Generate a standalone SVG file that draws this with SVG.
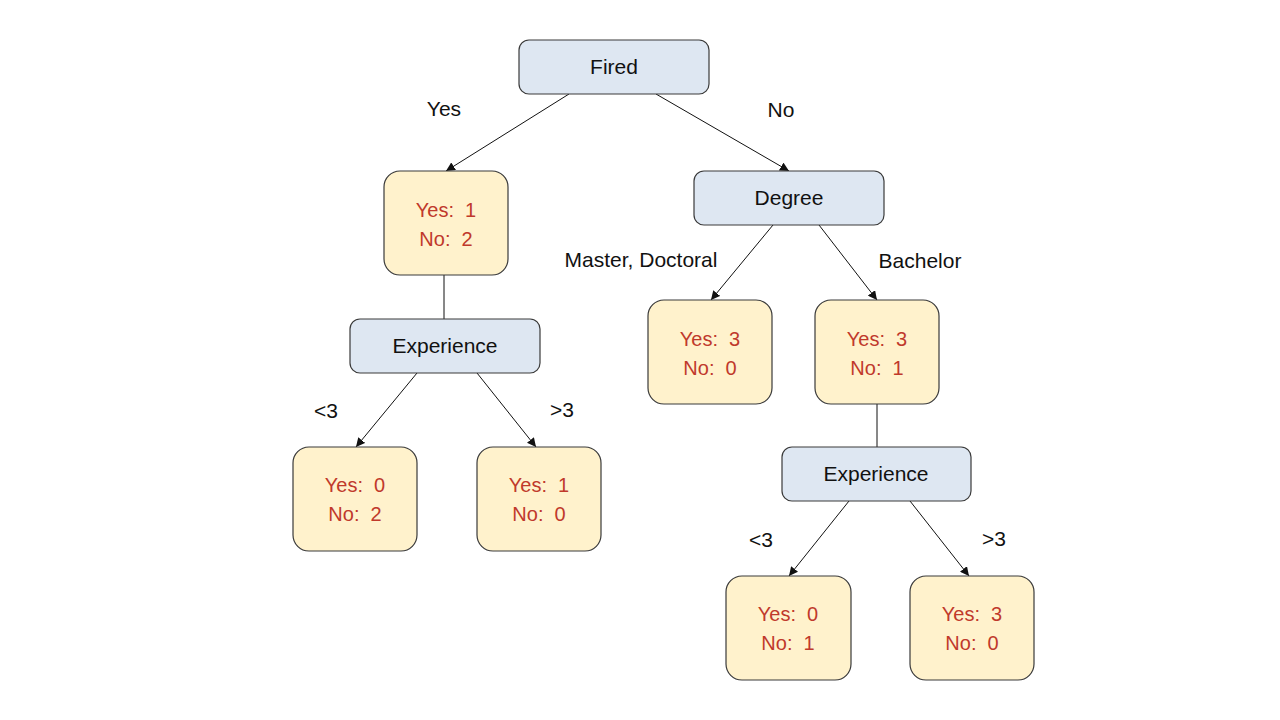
<svg xmlns="http://www.w3.org/2000/svg" width="1280" height="720" viewBox="0 0 1280 720">
<style>
.n{fill:#dee7f2;stroke:#3a3a3a;stroke-width:1.2}
.l{fill:#fff2cc;stroke:#3a3a3a;stroke-width:1.2}
.t{font-family:"Liberation Sans",Arial,sans-serif;font-size:21px;fill:#111;text-anchor:middle;white-space:pre}
.r{font-family:"Liberation Sans",Arial,sans-serif;font-size:20px;fill:#c0392b;text-anchor:middle;white-space:pre}
.e{stroke:#111;stroke-width:1;fill:none}
.a{marker-end:url(#ah)}
</style>
<defs>
<marker id="ah" viewBox="0 0 10 10" refX="10" refY="5" markerWidth="9" markerHeight="9" markerUnits="userSpaceOnUse" orient="auto">
<path d="M0,0 L10,5 L0,10 z" fill="#111"/>
</marker>
</defs>
<rect width="1280" height="720" fill="#fff"/>
<g id="edges">
<line class="e a" x1="569" y1="94" x2="446" y2="171"/>
<line class="e a" x1="656" y1="94" x2="789" y2="171"/>
<line class="e" x1="444" y1="275" x2="444" y2="319"/>
<line class="e a" x1="417" y1="373" x2="356" y2="447"/>
<line class="e a" x1="477" y1="373" x2="536" y2="447"/>
<line class="e a" x1="773" y1="225" x2="711" y2="300"/>
<line class="e a" x1="819" y1="225" x2="877" y2="300"/>
<line class="e" x1="877" y1="404" x2="877" y2="447"/>
<line class="e a" x1="849" y1="501" x2="789" y2="576"/>
<line class="e a" x1="910" y1="501" x2="969" y2="576"/>
<text class="t" x="444" y="116">Yes</text>
<text class="t" x="781" y="117">No</text>
<text class="t" x="641" y="267">Master, Doctoral</text>
<text class="t" x="920" y="268">Bachelor</text>
<text class="t" x="326" y="418">&lt;3</text>
<text class="t" x="562" y="417">&gt;3</text>
<text class="t" x="761" y="547">&lt;3</text>
<text class="t" x="994" y="546">&gt;3</text>
</g>
<g id="fired"><rect class="n" x="519" y="40" width="190" height="54" rx="10"/><text class="t" x="614" y="74">Fired</text></g>
<g id="degree"><rect class="n" x="694" y="171" width="190" height="54" rx="10"/><text class="t" x="789" y="205">Degree</text></g>
<g id="leafYes"><rect class="l" x="384" y="171" width="124" height="104" rx="16"/><text class="r" x="446" y="217">Yes:  1</text><text class="r" x="446" y="246">No:  2</text></g>
<g id="expL"><rect class="n" x="350" y="319" width="190" height="54" rx="10"/><text class="t" x="445" y="353">Experience</text></g>
<g id="leafL1"><rect class="l" x="293" y="447" width="124" height="104" rx="16"/><text class="r" x="355" y="492">Yes:  0</text><text class="r" x="355" y="521">No:  2</text></g>
<g id="leafL2"><rect class="l" x="477" y="447" width="124" height="104" rx="16"/><text class="r" x="539" y="492">Yes:  1</text><text class="r" x="539" y="521">No:  0</text></g>
<g id="leafM"><rect class="l" x="648" y="300" width="124" height="104" rx="16"/><text class="r" x="710" y="346">Yes:  3</text><text class="r" x="710" y="375">No:  0</text></g>
<g id="leafB"><rect class="l" x="815" y="300" width="124" height="104" rx="16"/><text class="r" x="877" y="346">Yes:  3</text><text class="r" x="877" y="375">No:  1</text></g>
<g id="expR"><rect class="n" x="782" y="447" width="189" height="54" rx="10"/><text class="t" x="876" y="481">Experience</text></g>
<g id="leafR1"><rect class="l" x="726" y="576" width="125" height="104" rx="16"/><text class="r" x="788" y="621">Yes:  0</text><text class="r" x="788" y="650">No:  1</text></g>
<g id="leafR2"><rect class="l" x="910" y="576" width="124" height="104" rx="16"/><text class="r" x="972" y="621">Yes:  3</text><text class="r" x="972" y="650">No:  0</text></g>
</svg>
